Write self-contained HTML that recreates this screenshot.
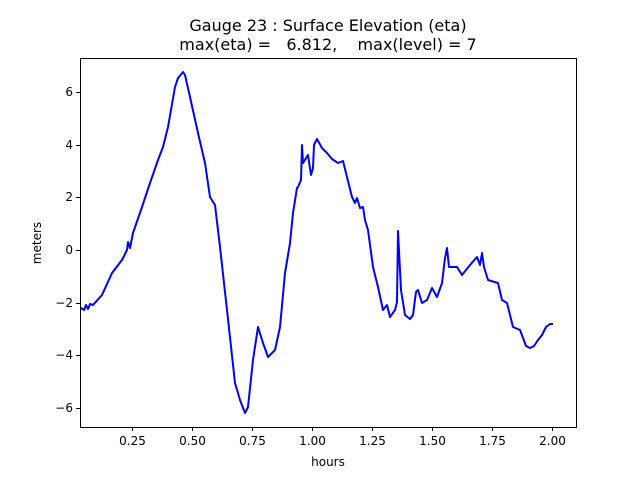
<!DOCTYPE html>
<html><head><meta charset="utf-8"><style>
html,body{margin:0;padding:0;background:#fff;}
svg{display:block;font-family:"DejaVu Sans","Liberation Sans",sans-serif;}
</style></head><body>
<svg width="640" height="480" viewBox="0 0 640 480">
<rect x="0" y="0" width="640" height="480" fill="#fff"/>
<text x="328" y="31" font-size="16" text-anchor="middle">Gauge 23 : Surface Elevation (eta)</text>
<text x="328" y="50" font-size="16" text-anchor="middle" xml:space="preserve">max(eta) =   6.812,    max(level) = 7</text>
<polyline fill="none" stroke="#0000ff" stroke-width="2" stroke-linejoin="round" points="81,308 84,310 86,305 88,309 90,304 93,305 102,295 112,273 122,260 127,250 128,242 130,248 133,233 142,207 150,183 158,160 163,147 168,127 175,87 178,78 183,72 185,75 190,97 198,133 205,163 210,197 215,205 220,247 227,310 235,383 240,400 245,413 248,407 253,360 258,327 263,343 268,357 275,350 280,327 285,273 290,243 293,213 297,188 298,187 301,180 302,145 303,163 308,155 311,175 313,168 314,145 317,139 322,148 327,153 332,159 338,163 343,161 347,177 352,197 355,203 357,198 360,208 363,207 365,220 368,230 373,267 378,287 383,310 387,305 390,317 395,310 397,302 398,231 401,290 405,315 410,319 413,315 416,292 418,290 422,303 427,300 432,288 437,297 442,283 445,258 447,248 449,267 457,267 462,275 470,265 477,257 480,265 482,253 484,267 488,280 498,283 502,300 507,303 513,327 520,330 526,346 530,348 534,346 538,340 542,335 546,327 550,324 553,324"/>
<rect x="80.5" y="58.5" width="496" height="369" fill="none" stroke="#000" stroke-width="1"/>
<g stroke="#000" stroke-width="1">
<line x1="132.5" y1="427" x2="132.5" y2="431"/><line x1="192.5" y1="427" x2="192.5" y2="431"/><line x1="252.5" y1="427" x2="252.5" y2="431"/><line x1="312.5" y1="427" x2="312.5" y2="431"/><line x1="372.5" y1="427" x2="372.5" y2="431"/><line x1="432.5" y1="427" x2="432.5" y2="431"/><line x1="492.5" y1="427" x2="492.5" y2="431"/><line x1="552.5" y1="427" x2="552.5" y2="431"/>
<line x1="76" y1="92.5" x2="80" y2="92.5"/><line x1="76" y1="145.5" x2="80" y2="145.5"/><line x1="76" y1="197.5" x2="80" y2="197.5"/><line x1="76" y1="250.5" x2="80" y2="250.5"/><line x1="76" y1="303.5" x2="80" y2="303.5"/><line x1="76" y1="355.5" x2="80" y2="355.5"/><line x1="76" y1="408.5" x2="80" y2="408.5"/>
</g>
<g font-size="12" text-anchor="middle">
<text x="132.5" y="445">0.25</text><text x="192.5" y="445">0.50</text><text x="252.5" y="445">0.75</text><text x="312.5" y="445">1.00</text><text x="372.5" y="445">1.25</text><text x="432.5" y="445">1.50</text><text x="492.5" y="445">1.75</text><text x="552.5" y="445">2.00</text>
</g>
<g font-size="12" text-anchor="end">
<text x="73" y="96">6</text><text x="73" y="149">4</text><text x="73" y="201">2</text><text x="73" y="254">0</text><text x="73" y="307">−2</text><text x="73" y="359">−4</text><text x="73" y="412">−6</text>
</g>
<text x="328" y="466" font-size="12" text-anchor="middle">hours</text>
<text x="41" y="243" font-size="12" text-anchor="middle" transform="rotate(-90 41 243)">meters</text>
</svg>
</body></html>
